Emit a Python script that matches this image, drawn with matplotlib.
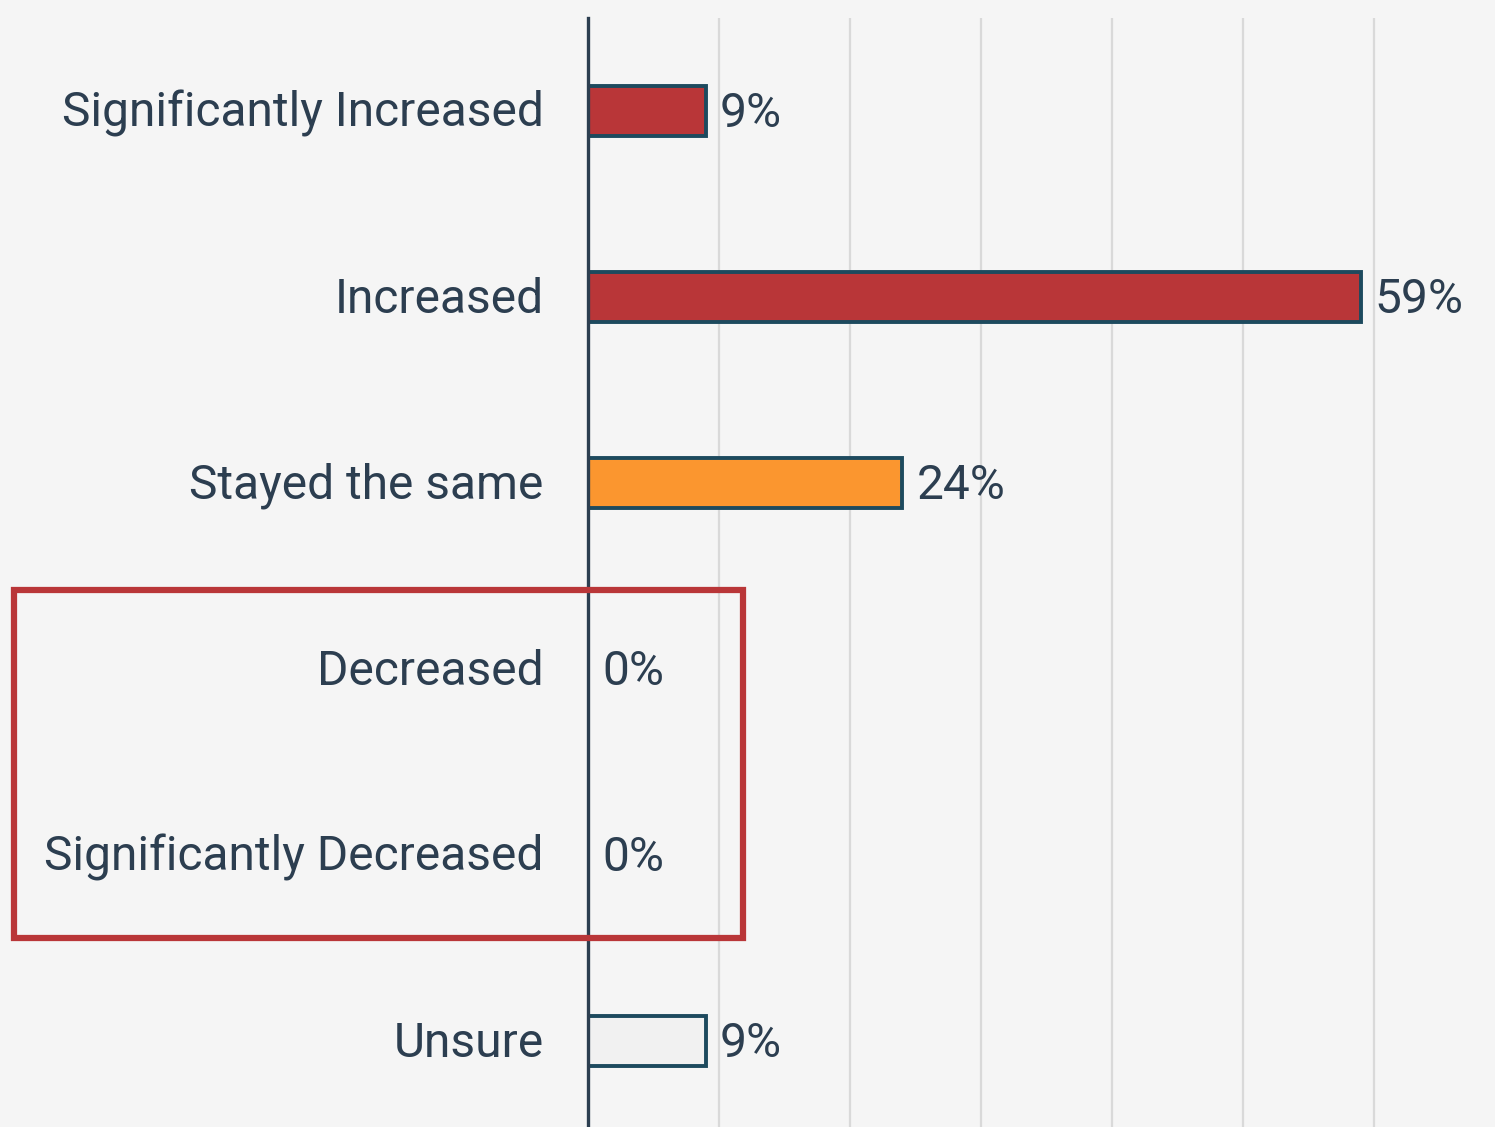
import numpy as np
import matplotlib.pyplot as plt
import matplotlib.transforms as mtransforms
from matplotlib.patches import Rectangle

# -------------------------------------------------
# Data
# -------------------------------------------------

categories = [
    "Significantly Increased",
    "Increased",
    "Stayed the same",
    "Decreased",
    "Significantly Decreased",
    "Unsure",
]
values = [9, 59, 24, 0, 0, 9]
bar_colors = ["#b93638", "#b93638", "#fb962f", "#b93638", "#b93638", "#f1f1f1"]
grid_ticks = [10, 20, 30, 40, 50, 60]

# -------------------------------------------------
# Style
# -------------------------------------------------

plt.rcParams["font.family"] = ["Roboto", "DejaVu Sans"]
bg = "#f5f5f5"
text_color = "#2c3e50"
edge_color = "#1d4a5e"

fig = plt.figure(figsize=(14.95, 11.27), dpi=100, facecolor=bg)
ax = fig.add_axes([588 / 1495, 0, 1 - 588 / 1495, 1 - 18 / 1127])
ax.set_facecolor(bg)

y = np.arange(len(categories))

for xv in grid_ticks:
    ax.axvline(xv, color="#d9d9d9", linewidth=1.6, zorder=0)

for yi, v, c in zip(y, values, bar_colors):
    if v > 0:
        ax.barh(yi, v, height=0.27, color=c, edgecolor=edge_color,
                linewidth=2.8, zorder=2)
    ax.annotate(f"{v}%", (v, yi), xytext=(10, -2), textcoords="offset points",
                va="center", ha="left", fontsize=34.5, color=text_color)

ax.set_xlim(0, 69.24)
ax.set_ylim(5.462, -0.5)
ax.set_yticks(y)
ax.set_yticklabels(categories, fontsize=34.5, color=text_color, va="center")
ax.tick_params(axis="y", length=0, pad=32)
ax.set_xticks([])

# nudge category labels down a touch
shift = mtransforms.ScaledTranslation(0, -2 / 72, fig.dpi_scale_trans)
for lbl in ax.get_yticklabels():
    lbl.set_transform(lbl.get_transform() + shift)

for s in ["top", "right", "bottom"]:
    ax.spines[s].set_visible(False)
ax.spines["left"].set_color(text_color)
ax.spines["left"].set_linewidth(2.4)
ax.spines["left"].set_zorder(3)

# Highlight box around the decreased rows
box = Rectangle((-43.8, 2.575), 55.6, 1.871, fill=False,
                edgecolor="#b93638", linewidth=4.5, clip_on=False, zorder=4)
ax.add_patch(box)

fig.savefig("out.png", dpi=100, facecolor=bg)
